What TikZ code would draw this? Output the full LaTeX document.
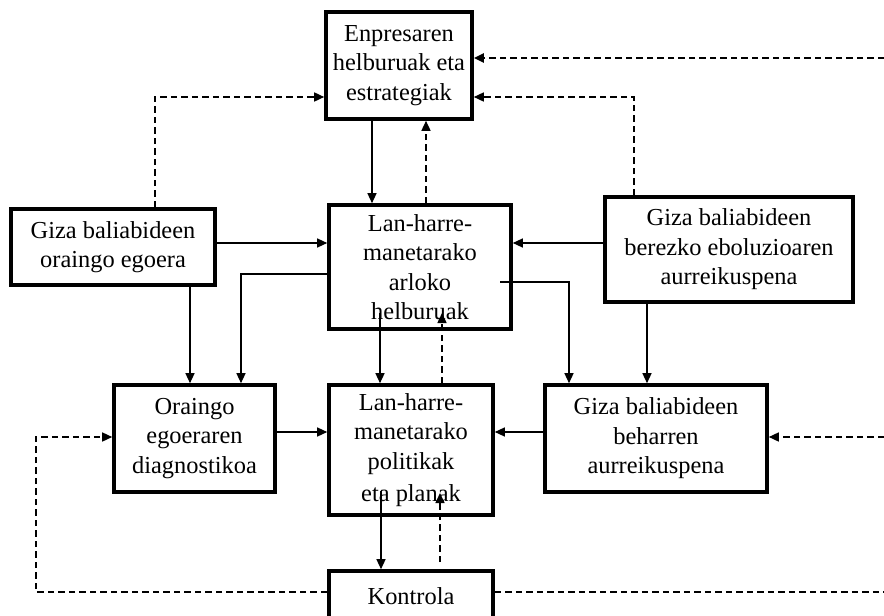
\documentclass[tikz,border=0pt]{standalone}
\usepackage{fontspec}
\setmainfont{Liberation Serif}
\usetikzlibrary{arrows.meta}
\begin{document}
\begin{tikzpicture}[x=1pt,y=-1pt,
  box/.style={draw, line width=3.6pt, align=center, inner sep=0pt,
    font=\fontsize{24.4}{29.5}\selectfont},
  conn/.style={line width=1.3pt, -{Triangle[length=10pt,width=9pt]}},
  dconn/.style={conn, line width=1.5pt, dash pattern=on 6.5pt off 4pt},
  thickdash/.style={line width=2.3pt}]
\fill[white] (0,0) rectangle (884,616);
\useasboundingbox (0,0) rectangle (884,616);
% nodes
\node[box, minimum width=146pt, minimum height=107pt] (E) at (399,65.5) {Enpresaren\\helburuak eta\\estrategiak};
\node[box, minimum width=182pt, minimum height=124pt] (L1) at (420,267) {Lan-harre-\\manetarako\\arloko\\helburuak};
\node[box, minimum width=204pt, minimum height=76pt] (GO) at (113,247) {Giza baliabideen\\oraingo egoera};
\node[box, minimum width=248pt, minimum height=105pt] (GB) at (729,249.5) {Giza baliabideen\\berezko eboluzioaren\\aurreikuspena};
\node[box, minimum width=161pt, minimum height=107pt] (D) at (194.5,438.5) {Oraingo\\egoeraren\\diagnostikoa};
\node[box, minimum width=164pt, minimum height=130pt] (P) at (411,450) {Lan-harre-\\manetarako\\politikak\\[3pt]eta planak};
\node[box, minimum width=164pt, minimum height=50pt] (K) at (411,596) {Kontrola};
\node[box, minimum width=222pt, minimum height=107pt] (GH) at (656,438.5) {Giza baliabideen\\beharren\\aurreikuspena};
% free ends and connector points
\coordinate (r1) at (884,58);
\coordinate (r2) at (884,437);
\coordinate (lc) at (36,437);
\coordinate (a1) at ([xshift=-27pt]E.south);
\coordinate (a2) at ([xshift=27pt]E.south);
\coordinate (a3) at ([xshift=-95pt]GB.north);
\coordinate (a4) at ([xshift=42pt]GO.north);
\coordinate (eR) at ([yshift=-31.5pt]E.east);
\coordinate (eL) at ([yshift=-31.5pt]E.west);
\coordinate (a5) at ([yshift=4pt]GO.east);
\coordinate (a6) at ([yshift=6.5pt]GB.west);
\coordinate (a7) at ([yshift=-7pt]L1.west);
\coordinate (dN) at ([xshift=46.5pt]D.north);
\coordinate (a8) at ([xshift=77pt]GO.south);
\coordinate (a9) at ([xshift=80pt,yshift=-15pt]L1.center);
\coordinate (hN) at ([xshift=-87pt]GH.north);
\coordinate (a10) at ([xshift=-82pt]GB.south);
\coordinate (a11) at ([xshift=-40pt,yshift=-46pt]L1.center);
\coordinate (a12) at ([xshift=31pt]P.north);
\coordinate (lT) at ([xshift=22pt,yshift=-46pt]L1.center);
\coordinate (a13) at ([yshift=6.5pt]D.east);
\coordinate (a14) at ([yshift=6.5pt]GH.west);
\coordinate (a15) at ([xshift=-30pt,yshift=-41pt]P.center);
\coordinate (a16) at ([xshift=29pt,yshift=7pt]K.north);
\coordinate (pT) at ([xshift=29pt,yshift=-43pt]P.center);
\coordinate (a17) at ([yshift=4pt]K.west);
\coordinate (a18) at ([yshift=4pt]K.east);
% connectors
\draw[conn] (a1) -- (a1 |- L1.north);
\draw[dconn] (a2 |- L1.north) -- (a2);
\draw[dconn, thickdash] (r1) -- (r1 -| E.east);
\draw[dconn] (a3) |- (eR);
\draw[dconn] (a4) |- (eL);
\draw[conn] (a5) -- (a5 -| L1.west);
\draw[conn] (a6) -- (a6 -| L1.east);
\draw[conn] (a7) -| (dN);
\draw[conn] (a8) -- (a8 |- D.north);
\draw[conn] (a9) -| (hN);
\draw[conn] (a10) -- (a10 |- GH.north);
\draw[conn] (a11) -- (a11 |- P.north);
\draw[dconn] (a12) -- (lT);
\draw[conn] (a13) -- (a13 -| P.west);
\draw[conn] (a14) -- (a14 -| P.east);
\draw[conn] (a15) -- (a15 |- K.north);
\draw[dconn] (a16) -- (pT);
\draw[dconn] (a17) -| (lc) -- (lc -| D.west);
\draw[dconn, thickdash, -] (a18) -- (a18 -| r1);
\draw[dconn] (r2) -- (r2 -| GH.east);
\end{tikzpicture}
\end{document}
